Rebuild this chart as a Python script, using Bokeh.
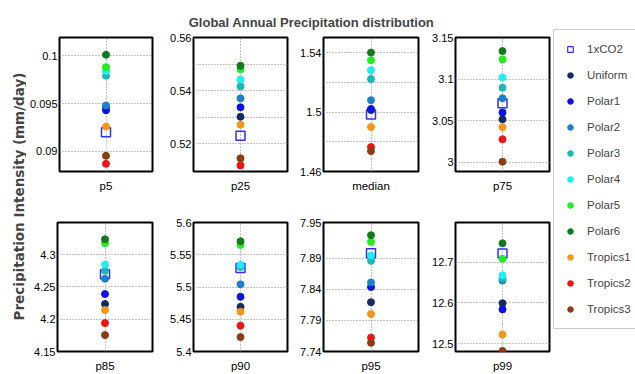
import math
from bokeh.plotting import figure
from bokeh.models import (Range1d, FactorRange, FixedTicker, Label, Legend,
                          LegendItem, ColumnDataSource)
from bokeh.layouts import row, column
from bokeh.embed import file_html
from bokeh.resources import INLINE

# ---------------- data ----------------
title_text = "Global Annual Precipitation distribution"
ylabel_text = "Precipitation Intensity (mm/day)"

categories = ["p5", "p25", "median", "p75", "p85", "p90", "p95", "p99"]

experiments = ["1xCO2", "Uniform", "Polar1", "Polar2", "Polar3", "Polar4",
               "Polar5", "Polar6", "Tropics1", "Tropics2", "Tropics3"]
exp_colors = ["#3030f0", "#142a62", "#0a12e8", "#1e80c8", "#1ab8b8", "#20eef2",
              "#1ef01e", "#157a1c", "#f4961a", "#f01414", "#8c3c12"]

vals_1xCO2    = [0.0920, 0.5230, 1.4984, 3.0711, 4.2695, 5.5294, 7.8984, 12.7208]
vals_uniform  = [0.0946, 0.5302, 1.5015, 3.0518, 4.2234, 5.4692, 7.8195, 12.5990]
vals_polar1   = [0.0943, 0.5338, 1.5022, 3.0599, 4.2389, 5.4848, 7.8440, 12.5838]
vals_polar2   = [0.0948, 0.5372, 1.5081, 3.0771, 4.2625, 5.5041, 7.8513, 12.6547]
vals_polar3   = [0.0979, 0.5417, 1.5224, 3.0896, 4.2749, 5.5309, 7.8862, 12.6596]
vals_polar4   = [0.0984, 0.5443, 1.5283, 3.1020, 4.2845, 5.5344, 7.8948, 12.6676]
vals_polar5   = [0.0988, 0.5482, 1.5350, 3.1237, 4.3176, 5.5652, 7.9170, 12.7080]
vals_polar6   = [0.1001, 0.5495, 1.5402, 3.1337, 4.3236, 5.5708, 7.9275, 12.7460]
vals_tropics1 = [0.0926, 0.5272, 1.4900, 3.0422, 4.2140, 5.4617, 7.8005, 12.5222]
vals_tropics2 = [0.0887, 0.5118, 1.4765, 3.0277, 4.1939, 5.4400, 7.7624, 12.4800]
vals_tropics3 = [0.08954, 0.5145, 1.4738, 3.0008, 4.1754, 5.4223, 7.7540, 12.4820]

values = {
    "1xCO2": vals_1xCO2, "Uniform": vals_uniform, "Polar1": vals_polar1,
    "Polar2": vals_polar2, "Polar3": vals_polar3, "Polar4": vals_polar4,
    "Polar5": vals_polar5, "Polar6": vals_polar6, "Tropics1": vals_tropics1,
    "Tropics2": vals_tropics2, "Tropics3": vals_tropics3,
}

y_limits = [(0.0879, 0.1019), (0.5095, 0.5602), (1.46, 1.5504), (2.989, 3.15),
            (4.15, 4.3495), (5.4, 5.6), (7.74, 7.948), (12.4806, 12.797)]
y_ticks = [[0.09, 0.095, 0.1], [0.52, 0.54, 0.56], [1.46, 1.5, 1.54],
           [3.0, 3.05, 3.1, 3.15], [4.15, 4.2, 4.25, 4.3],
           [5.4, 5.45, 5.5, 5.55, 5.6], [7.74, 7.79, 7.84, 7.89, 7.948],
           [12.5, 12.6, 12.7, 12.8]]
y_tick_labels = [["0.09", "0.095", "0.1"], ["0.52", "0.54", "0.56"],
                 ["1.46", "1.5", "1.54"], ["3", "3.05", "3.1", "3.15"],
                 ["4.15", "4.2", "4.25", "4.3"],
                 ["5.4", "5.45", "5.5", "5.55", "5.6"],
                 ["7.74", "7.79", "7.84", "7.89", "7.95"],
                 ["12.5", "12.6", "12.7", "12.8"]]
y_minor_ticks = [[], [0.53, 0.55], [1.48, 1.52], [], [], [], [], []]

# ---------------- style ----------------
FONT = "Liberation Sans"
GRID = "#8a8a8a"

col_left = [31, 38, 33, 34]
col_right = 3
frame_w = [95, 94, 95, 94]
row_top = [6, 26]
frame_h = [134, 132]
row_bottom = [25, 20]

figs = []
for k, cat in enumerate(categories):
    r, c = divmod(k, 4)
    w = col_left[c] + frame_w[c] + col_right
    h = row_top[r] + frame_h[r] + row_bottom[r]
    p = figure(x_range=FactorRange(factors=[cat]),
               y_range=Range1d(*y_limits[k]),
               width=w, height=h, output_backend="svg", toolbar_location=None,
               min_border_left=col_left[c], min_border_right=col_right,
               min_border_top=row_top[r], min_border_bottom=row_bottom[r])
    for name, color in zip(experiments, exp_colors):
        v = values[name][k]
        if name == "1xCO2":
            p.scatter(x=[cat], y=[v], marker="square", size=9,
                      fill_color=None, line_color=color, line_width=1.5)
        else:
            p.scatter(x=[cat], y=[v], marker="circle", size=7,
                      fill_color=color, line_color=color)
    tk = FixedTicker(ticks=y_ticks[k], minor_ticks=y_minor_ticks[k])
    p.yaxis.ticker = tk
    p.ygrid.ticker = tk
    p.yaxis.major_label_overrides = {t: lab for t, lab in zip(y_ticks[k], y_tick_labels[k])}
    for ax in (p.xaxis[0], p.yaxis[0]):
        ax.axis_line_color = None
        ax.major_tick_line_color = None
        ax.minor_tick_line_color = None
        ax.major_tick_out = 0
        ax.minor_tick_out = 0
        ax.major_label_text_font = FONT
        ax.major_label_text_color = "black"
    p.yaxis.major_label_text_font_size = "11px"
    p.yaxis.major_label_standoff = 2
    p.xaxis.major_label_text_font_size = "11.5px"
    p.xaxis.major_label_standoff = 8
    p.ygrid.grid_line_color = GRID
    p.ygrid.grid_line_dash = "1 2"
    p.ygrid.minor_grid_line_color = GRID
    p.ygrid.minor_grid_line_dash = "1 2"
    p.xgrid.grid_line_color = GRID
    p.xgrid.grid_line_dash = "1 2"
    p.outline_line_color = "black"
    p.outline_line_width = 2
    p.outline_line_alpha = 1.0
    p.background_fill_color = "white"
    p.border_fill_color = "white"
    figs.append(p)

# title
tf = figure(width=525, height=31, x_range=Range1d(0, 525), y_range=Range1d(0, 31),
            output_backend="svg", toolbar_location=None, min_border=0,
            x_axis_location=None, y_axis_location=None)
tf.grid.visible = False
tf.outline_line_color = None
tf.add_layout(Label(x=285, y=9, text=title_text, text_align="center",
                    text_baseline="middle", text_font=FONT,
                    text_font_style="bold", text_font_size="13px"))

# y label
yf = figure(width=26, height=374, x_range=Range1d(0, 26), y_range=Range1d(0, 374),
            output_backend="svg", toolbar_location=None, min_border=0,
            x_axis_location=None, y_axis_location=None)
yf.grid.visible = False
yf.outline_line_color = None
yf.add_layout(Label(x=18, y=178, text=ylabel_text, angle=math.pi / 2,
                    text_align="center", text_baseline="middle",
                    text_font="DejaVu Sans", text_font_style="bold",
                    text_font_size="13.5px"))

# legend
lf = figure(width=83, height=374, x_range=Range1d(0, 1), y_range=Range1d(0, 1),
            output_backend="svg", toolbar_location=None, min_border=0,
            x_axis_location=None, y_axis_location=None)
lf.grid.visible = False
lf.outline_line_color = None
items = []
for name, color in zip(experiments, exp_colors):
    src = ColumnDataSource(data=dict(x=[-1.0], y=[-1.0]))
    if name == "1xCO2":
        rr = lf.scatter(x="x", y="y", source=src, marker="square", size=9,
                        fill_color=None, line_color=color, line_width=1.2)
    else:
        rr = lf.scatter(x="x", y="y", source=src, marker="circle", size=7,
                        fill_color=color, line_color=color)
    items.append(LegendItem(label=name, renderers=[rr]))
legend = Legend(items=items, location=(1, 45), glyph_width=14, glyph_height=20,
                label_height=20, spacing=6, padding=9, label_standoff=10,
                margin=0, border_line_color="#9a9a9a", border_line_width=1,
                background_fill_color="white", background_fill_alpha=1.0,
                label_text_font=FONT, label_text_font_size="11.5px")
lf.add_layout(legend)

layout = row(yf,
             column(tf, row(*figs[:4]), row(*figs[4:])),
             lf)

open("out.html", "w").write(file_html(layout, INLINE))
